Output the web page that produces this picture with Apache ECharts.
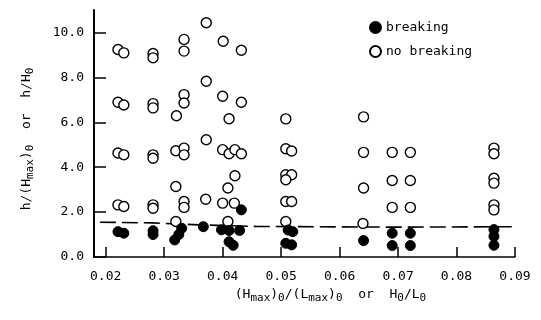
<!DOCTYPE html>
<html>
<head>
<meta charset="utf-8">
<script src="https://cdn.jsdelivr.net/npm/echarts@6/dist/echarts.min.js"></script>
<style>html,body{margin:0;padding:0;background:#fff;}#c{width:541px;height:320px;}</style>
</head>
<body>
<div id="c"></div>
<script>
// Data: [x = (Hmax)0/(Lmax)0, y = h/(Hmax)0]
var breaking = [
  [0.0221,1.13],[0.0231,1.06],
  [0.0281,1.17],[0.0281,1.00],
  [0.0330,1.28],[0.0325,1.00],[0.0318,0.76],
  [0.0367,1.35],
  [0.0398,1.21],[0.0411,1.18],[0.0429,1.18],[0.0432,2.10],[0.0411,0.68],[0.0418,0.52],
  [0.0512,1.20],[0.0520,1.13],[0.0508,0.61],[0.0518,0.54],
  [0.0641,0.73],
  [0.0690,1.06],[0.0721,1.06],[0.0690,0.51],[0.0721,0.51],
  [0.0864,1.22],[0.0864,0.92],[0.0864,0.52]
];
var noBreaking = [
  [0.0221,9.24],[0.0231,9.09],[0.0221,6.89],[0.0231,6.77],[0.0221,4.63],[0.0231,4.55],[0.0221,2.32],[0.0231,2.25],
  [0.0281,9.06],[0.0281,8.87],[0.0281,6.83],[0.0281,6.64],[0.0281,4.55],[0.0281,4.40],[0.0281,2.32],[0.0281,2.17],
  [0.0334,9.69],[0.0334,9.17],[0.0334,7.23],[0.0334,6.86],[0.0321,6.29],[0.0320,4.73],[0.0334,4.85],[0.0334,4.55],
  [0.0320,3.14],[0.0334,2.47],[0.0334,2.21],[0.0320,1.58],
  [0.0372,10.43],[0.0372,7.83],[0.0372,5.22],[0.0371,2.57],
  [0.0401,9.61],[0.0432,9.21],[0.0400,7.16],[0.0432,6.89],[0.0411,6.16],[0.0400,4.78],[0.0411,4.60],[0.0421,4.78],
  [0.0432,4.60],[0.0421,3.62],[0.0409,3.07],[0.0400,2.40],[0.0420,2.40],[0.0409,1.58],
  [0.0508,6.15],[0.0508,4.82],[0.0518,4.72],[0.0508,3.66],[0.0518,3.66],[0.0508,3.44],[0.0508,2.47],[0.0518,2.47],[0.0508,1.58],
  [0.0641,6.24],[0.0641,4.66],[0.0641,3.07],[0.0640,1.49],
  [0.0690,4.66],[0.0721,4.66],[0.0690,3.41],[0.0721,3.41],[0.0690,2.21],[0.0721,2.21],
  [0.0864,4.85],[0.0864,4.60],[0.0864,3.51],[0.0864,3.29],[0.0864,2.32],[0.0864,2.10]
];
var dashedLine = [[0.019,1.55],[0.028,1.52],[0.036,1.43],[0.046,1.36],[0.070,1.33],[0.090,1.35]];
var xTicks = [0.02,0.03,0.04,0.05,0.06,0.07,0.08,0.09];
var yTicks = [0,2,4,6,8,10];
var seriesNames = ['breaking','no breaking'];

var FONT = 'DejaVu Sans Mono';
var rich = {
  a: {fontFamily: FONT, fontSize: 13, color: '#000', lineHeight: 16, verticalAlign: 'top'},
  b: {fontFamily: FONT, fontSize: 11, color: '#000', lineHeight: 16, verticalAlign: 'top', padding: [5,0,0,0]}
};

var chart = echarts.init(document.getElementById('c'), null, {renderer: 'canvas'});
chart.setOption({
  animation: false,
  backgroundColor: '#fff',
  grid: {left: 94, right: 26, top: 10, bottom: 63, containLabel: false},
  legend: {
    data: seriesNames,
    orient: 'vertical',
    left: 364, top: 16,
    itemWidth: 11, itemHeight: 11, itemGap: 11,
    textStyle: {fontFamily: FONT, fontSize: 13, color: '#000'}
  },
  xAxis: {
    type: 'value', min: 0.018, max: 0.09,
    axisLine: {show: true, lineStyle: {color: '#000', width: 1.5}},
    axisTick: {show: true, inside: true, length: 10, customValues: xTicks, lineStyle: {color: '#000', width: 1.5}},
    axisLabel: {customValues: xTicks, margin: 13, fontFamily: FONT, fontSize: 13, color: '#000',
      formatter: function(v){return v.toFixed(2);}},
    splitLine: {show: false},
    name: '{a|(H}{b|max}{a|)}{b|0}{a|/(L}{b|max}{a|)}{b|0}{a|  or  H}{b|0}{a|/L}{b|0}',
    nameLocation: 'middle', nameGap: 29,
    nameTextStyle: {rich: rich, padding: [0,0,0,52]}
  },
  yAxis: {
    type: 'value', min: 0, max: 11,
    axisLine: {show: true, lineStyle: {color: '#000', width: 2}},
    axisTick: {show: true, inside: true, length: 12, customValues: yTicks, lineStyle: {color: '#000', width: 1.5}},
    axisLabel: {customValues: yTicks, margin: 10, fontFamily: FONT, fontSize: 13, color: '#000',
      formatter: function(v){return v.toFixed(1);}},
    splitLine: {show: false},
    name: '{a|h/(H}{b|max}{a|)}{b|0}{a|  or  h/H}{b|0}',
    nameLocation: 'middle', nameGap: 58, nameRotate: 90,
    nameTextStyle: {rich: rich, padding: [0,11,0,0]}
  },
  series: [
    {name: seriesNames[0], type: 'scatter', data: breaking, symbol: 'circle', symbolSize: 10,
     itemStyle: {color: '#000', borderColor: '#000', borderWidth: 1, opacity: 1}, z: 3},
    {name: seriesNames[1], type: 'scatter', data: noBreaking, symbol: 'circle', symbolSize: 10,
     itemStyle: {color: '#fff', borderColor: '#000', borderWidth: 1.4, opacity: 1}, z: 2},
    {name: 'boundary', type: 'line', data: dashedLine, symbol: 'none', silent: true, z: 1,
     lineStyle: {color: '#000', width: 1.6, type: [16,6]}}
  ]
});
</script>
</body>
</html>
